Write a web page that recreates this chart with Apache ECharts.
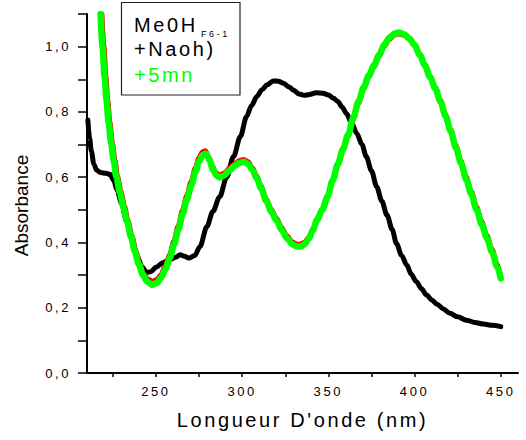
<!DOCTYPE html>
<html>
<head>
<meta charset="utf-8">
<script src="https://cdn.jsdelivr.net/npm/echarts@6.0.0/dist/echarts.min.js"></script>
<style>
  html, body { margin: 0; padding: 0; background: #fff; }
  #chart { width: 526px; height: 440px; }
</style>
</head>
<body>
<div id="chart"></div>
<script>
// UV-visible absorption spectra: wavelength (nm) vs absorbance
const blackCurve = [
  [210.5,0.775],[211.5,0.72],[212.5,0.68],[214,0.64],[215.5,0.622],[218,0.614],[221,0.612],
  [223.5,0.608],[225.5,0.59],[227.5,0.56],[230,0.52],[233,0.465],[236,0.41],[239,0.36],
  [242,0.325],[244.5,0.308],[247,0.31],[250,0.324],[254,0.338],[258,0.347],[261.5,0.355],
  [264,0.362],[266.5,0.358],[269,0.352],[272.5,0.36],[275.5,0.387],[279.5,0.448],[283,0.495],
  [287,0.54],[291,0.6],[295,0.663],[299,0.725],[302.5,0.785],[305.5,0.82],[308.5,0.847],
  [311.5,0.868],[314.5,0.883],[318,0.895],[321,0.894],[324,0.888],[327,0.877],[330,0.866],
  [333,0.855],[336,0.851],[339,0.853],[343,0.859],[347,0.857],[350,0.852],[353,0.842],
  [355.5,0.832],[358,0.815],[360.5,0.795],[363.5,0.766],[366.5,0.734],[369.5,0.7],[372,0.663],
  [375,0.62],[378,0.571],[381,0.527],[384,0.484],[387,0.44],[389.5,0.397],[392.5,0.36],
  [395.5,0.331],[398,0.303],[401,0.28],[404,0.258],[407,0.239],[410,0.224],[413,0.211],
  [416.5,0.197],[420.5,0.183],[425,0.172],[430,0.162],[435,0.155],[440,0.15],[445,0.146],[450,0.142]
];

const redCurve = [
  [218.8,1.1],[220,1.0],[221.1,0.91],[222.2,0.836],[223.4,0.77],[224.9,0.704],[226.4,0.65],
  [227.9,0.601],[229.9,0.555],[231.9,0.51],[234,0.465],[236.3,0.418],[238.5,0.374],[240.6,0.337],
  [243,0.305],[245.4,0.288],[248,0.282],[250.5,0.287],[252.8,0.302],[255.2,0.328],[257.7,0.362],
  [260.2,0.404],[262.7,0.45],[265.2,0.498],[267.7,0.543],[270.2,0.586],[272.7,0.628],[274.8,0.66],
  [276.8,0.678],[278.8,0.682],[280.8,0.662],[282.8,0.634],[284.8,0.615],[286.8,0.607],[289.5,0.613],
  [292.5,0.628],[295.5,0.642],[298.5,0.652],[301,0.655],[303.5,0.648],[306,0.63],[308.5,0.605],
  [311,0.574],[314,0.535],[317,0.502],[320,0.474],[323,0.446],[326,0.421],[329,0.403],[331.5,0.396],
  [333.5,0.395],[336,0.401],[338.5,0.416],[341,0.442],[343.5,0.474],[346.5,0.503],[349.5,0.542],
  [352.5,0.59],[355.5,0.638],[358.5,0.682],[361.5,0.725],[364.5,0.777],[367.5,0.826],[370.5,0.869],
  [373.5,0.906],[376.5,0.937],[379.5,0.969],[382.5,1.0],[385.5,1.022],[388.5,1.035],[391,1.038],
  [394,1.034],[397,1.022],[400,1.003],[403,0.975],[406,0.945],[409,0.909],[412,0.876],[415,0.837],
  [418,0.793],[421,0.747],[424,0.698],[427,0.65],[430,0.602],[433,0.556],[436,0.51],[439,0.465],
  [442,0.423],[445,0.38],[448,0.335],[450,0.298]
];

const greenCurve = [
  [217.9,1.1],[219,1.0],[220.2,0.908],[221.3,0.836],[222.5,0.77],[224,0.704],[225.5,0.65],
  [227,0.601],[229,0.555],[231,0.51],[233.2,0.465],[235.5,0.418],[237.8,0.372],[240,0.334],
  [242.5,0.3],[245,0.28],[247.8,0.27],[250.5,0.276],[253,0.292],[255.5,0.318],[258,0.352],
  [260.5,0.394],[263,0.44],[265.5,0.488],[268,0.533],[270.5,0.575],[273,0.618],[275,0.648],
  [277,0.667],[279,0.672],[281,0.652],[283,0.625],[285,0.606],[287,0.599],[289.5,0.605],
  [292.5,0.62],[295.5,0.634],[298.5,0.644],[301,0.647],[303.5,0.64],[306,0.622],[308.5,0.597],
  [311,0.566],[314,0.527],[317,0.494],[320,0.466],[323,0.438],[326,0.413],[329,0.395],[331.5,0.388],
  [333.5,0.387],[336,0.394],[338.5,0.41],[341,0.437],[343.5,0.47],[346.5,0.5],[349.5,0.54],
  [352.5,0.59],[355.5,0.64],[358.5,0.686],[361.5,0.73],[364.5,0.783],[367.5,0.832],[370.5,0.875],
  [373.5,0.912],[376.5,0.943],[379.5,0.975],[382.5,1.006],[385.5,1.028],[388.5,1.04],[391,1.043],
  [394,1.038],[397,1.025],[400,1.005],[403,0.975],[406,0.943],[409,0.906],[412,0.872],[415,0.832],
  [418,0.787],[421,0.74],[424,0.69],[427,0.642],[430,0.593],[433,0.547],[436,0.5],[439,0.455],
  [442,0.413],[445,0.37],[448,0.325],[450,0.29]
];

const xTickValues = [225, 250, 275, 300, 325, 350, 375, 400, 425, 450];
const xLabelValues = [250, 300, 350, 400, 450];
const yTickValues = [0, 0.1, 0.2, 0.3, 0.4, 0.5, 0.6, 0.7, 0.8, 0.9, 1.0, 1.1];
const yLabelValues = [0, 0.2, 0.4, 0.6, 0.8, 1.0];

const xTitle = "Longueur D'onde (nm)";
const yTitle = 'Absorbance';
const legendMain = 'Me0H';
const legendSub = 'F6-1';
const legendSecond = '+Naoh)';
const legendThird = '+5mn';

const FONT = '"Liberation Sans", Arial, Helvetica, sans-serif';

const dom = document.getElementById('chart');
const chart = echarts.init(dom, null, { renderer: 'svg' });

function lineSeries(name, data, color, width) {
  return {
    name: name,
    type: 'line',
    data: data,
    showSymbol: false,
    smooth: 0.3,
    smoothMonotone: 'x',
    clip: true,
    lineStyle: { color: color, width: width, cap: 'round', join: 'round' },
    itemStyle: { color: color },
    emphasis: { disabled: true }
  };
}

const option = {
  animation: false,
  backgroundColor: '#fff',
  grid: { left: 87, right: 8, top: 14, bottom: 67 },
  xAxis: {
    type: 'value',
    min: 210,
    max: 460,
    name: xTitle,
    nameLocation: 'middle',
    nameGap: 37,
    nameTextStyle: { fontFamily: FONT, fontSize: 20, color: '#000' },
    axisLine: { onZero: false, lineStyle: { color: '#000', width: 2 } },
    axisTick: { show: true, inside: false, length: 4, customValues: xTickValues,
                lineStyle: { color: '#000', width: 1.5 } },
    axisLabel: { customValues: xLabelValues, margin: 12, fontFamily: FONT, fontSize: 13, color: '#000' },
    splitLine: { show: false }
  },
  yAxis: {
    type: 'value',
    min: 0,
    max: 1.1,
    axisLine: { show: true, onZero: false, lineStyle: { color: '#000', width: 2 } },
    axisTick: { show: true, inside: false, length: 9, customValues: yTickValues,
                lineStyle: { color: '#000', width: 1.5 } },
    axisLabel: {
      customValues: yLabelValues, margin: 16, fontFamily: FONT, fontSize: 13, color: '#000',
      formatter: function (v) { return v.toFixed(1).replace('.', ','); }
    },
    splitLine: { show: false }
  },
  series: [
    lineSeries('MeOH F6-1', blackCurve, '#000000', 5),
    lineSeries('+NaOH', redCurve, '#ff0000', 4.5),
    lineSeries('+5mn', greenCurve, '#00ff00', 6.5)
  ],
  graphic: [
    {
      type: 'rect',
      shape: { x: 121.5, y: 2.5, width: 118.5, height: 92.5 },
      style: { fill: '#fff', stroke: '#222', lineWidth: 1.2 },
      z: 10
    },
    { type: 'text', x: 134, y: 24.5, z: 11,
      style: { text: legendMain, font: '20px ' + FONT, fill: '#000', verticalAlign: 'middle' } },
    { type: 'text', x: 201, y: 33.5, z: 11,
      style: { text: legendSub, font: '9px ' + FONT, fill: '#000', verticalAlign: 'middle' } },
    { type: 'text', x: 134, y: 49, z: 11,
      style: { text: legendSecond, font: '20px ' + FONT, fill: '#000', verticalAlign: 'middle' } },
    { type: 'text', x: 134, y: 75, z: 11,
      style: { text: legendThird, font: '20px ' + FONT, fill: '#00ff00', verticalAlign: 'middle' } },
    { type: 'text', x: 21, y: 205.5, rotation: Math.PI / 2, z: 11,
      style: { text: yTitle, font: '19px ' + FONT, fill: '#000', align: 'center', verticalAlign: 'middle' } }
  ]
};

chart.setOption(option);

// Widen the tracking of the printed labels; the vertical title stays tight.
function applyTracking() {
  dom.querySelectorAll('text').forEach(function (t) {
    const s = (t.textContent || '').trim();
    t.style.letterSpacing = (s === yTitle) ? '0px' : '2.6px';
  });
}
chart.on('finished', applyTracking);
applyTracking();
setTimeout(applyTracking, 50);
</script>
</body>
</html>
